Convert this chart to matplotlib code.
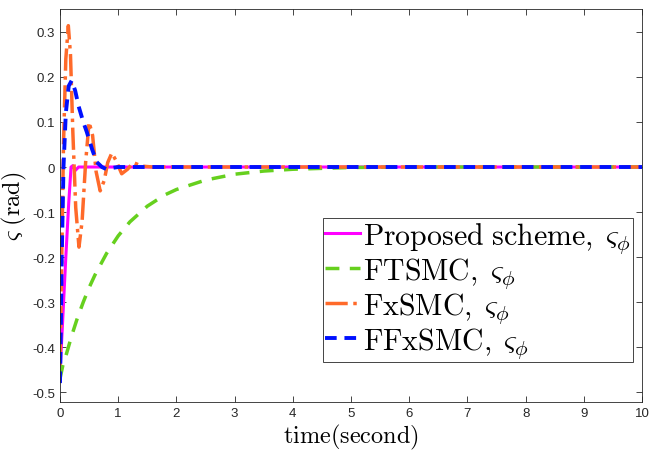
import numpy as np
import matplotlib.pyplot as plt

plt.rcParams['mathtext.fontset'] = 'cm'
plt.rcParams['font.family'] = ['Liberation Sans', 'DejaVu Sans']

t_prop = [0, 0.05, 0.1, 0.15, 0.19, 0.22, 0.26, 0.32, 10]
y_prop = [-0.46, -0.33, -0.2, -0.08, 0.0, 0.003, -0.008, 0.0, 0.0]

t_ft = [0, 0.05, 0.1, 0.2, 0.3, 0.4, 0.5, 0.6, 0.8, 1.0, 1.2, 1.5, 1.8, 2.0, 2.5,
        3.0, 3.5, 4.0, 4.5, 5.0, 6.0, 10]
y_ft = [-0.47, -0.44, -0.42, -0.375, -0.335, -0.30, -0.268, -0.240, -0.192, -0.153,
        -0.122, -0.087, -0.062, -0.050, -0.029, -0.016, -0.009, -0.005, -0.003,
        -0.001, 0.0, 0.0]

t_fx = [0, 0.03, 0.06, 0.1, 0.143, 0.18, 0.22, 0.27, 0.326, 0.38, 0.44, 0.50,
        0.56, 0.62, 0.69, 0.76, 0.82, 0.89, 0.96, 1.06, 1.16, 1.26, 1.4, 1.6, 10]
y_fx = [-0.44, -0.2, 0.05, 0.24, 0.314, 0.25, 0.08, -0.09, -0.178, -0.12, 0.01,
        0.10, 0.07, -0.01, -0.053, -0.03, 0.01, 0.031, 0.015, -0.015, -0.005,
        0.01, 0.002, 0.0, 0.0]

t_ffx = [0, 0.015, 0.03, 0.06, 0.1, 0.15, 0.2, 0.26, 0.32, 0.4, 0.46, 0.55, 0.63,
         0.72, 0.8, 0.9, 1.0, 10]
y_ffx = [-0.48, -0.35, -0.2, 0.0, 0.12, 0.18, 0.192, 0.17, 0.135, 0.1, 0.078,
         0.04, 0.011, 0.0, -0.005, -0.002, 0.0, 0.0]

labels = [r'$\mathrm{Proposed\ scheme,}\;\varsigma_\phi$',
          r'$\mathrm{FTSMC,}\;\varsigma_\phi$',
          r'$\mathrm{FxSMC,}\;\varsigma_\phi$',
          r'$\mathrm{FFxSMC,}\;\varsigma_\phi$']

fig = plt.figure(figsize=(6.55, 4.56), dpi=100)
ax = fig.add_axes([60 / 655, 53 / 456, 582 / 655, 393 / 456])

ax.plot(t_prop, y_prop, '-', color='#ff00ff', lw=2.2, label=labels[0])
ax.plot(t_ft, y_ft, '--', color='#66d01e', lw=2.5, dashes=(4, 3), label=labels[1])
ax.plot(t_fx, y_fx, '-.', color='#ff6a2a', lw=2.5, label=labels[2])
ax.plot(t_ffx, y_ffx, '--', color='#0010ff', lw=2.8, dashes=(3, 2), label=labels[3])

ax.set_xlim(0, 10)
ax.set_ylim(-0.522, 0.351)
ax.set_xticks(np.arange(0, 11, 1))
ax.set_yticks(np.arange(-0.5, 0.31, 0.1))
ax.set_yticklabels(['-0.5', '-0.4', '-0.3', '-0.2', '-0.1', '0', '0.1', '0.2', '0.3'])
ax.tick_params(direction='in', top=True, right=True, labelsize=9.5,
               colors='#262626', length=4, width=0.6)
for s in ax.spines.values():
    s.set_color('#262626')
    s.set_linewidth(0.6)

ax.set_xlabel(r'$\mathrm{time(second)}$', fontsize=17.5, labelpad=2)
ax.set_ylabel(r'$\varsigma\ \mathrm{(rad)}$', fontsize=17.5, labelpad=2)

leg = ax.legend(loc='lower right', bbox_to_anchor=(0.9845, 0.102), fontsize=21.5,
                fancybox=False, edgecolor='#262626', framealpha=1,
                handlelength=1.15, handletextpad=0.12, borderpad=0.08,
                labelspacing=0.0, borderaxespad=0)
leg.get_frame().set_linewidth(0.6)

fig.savefig('out.png', dpi=100)
